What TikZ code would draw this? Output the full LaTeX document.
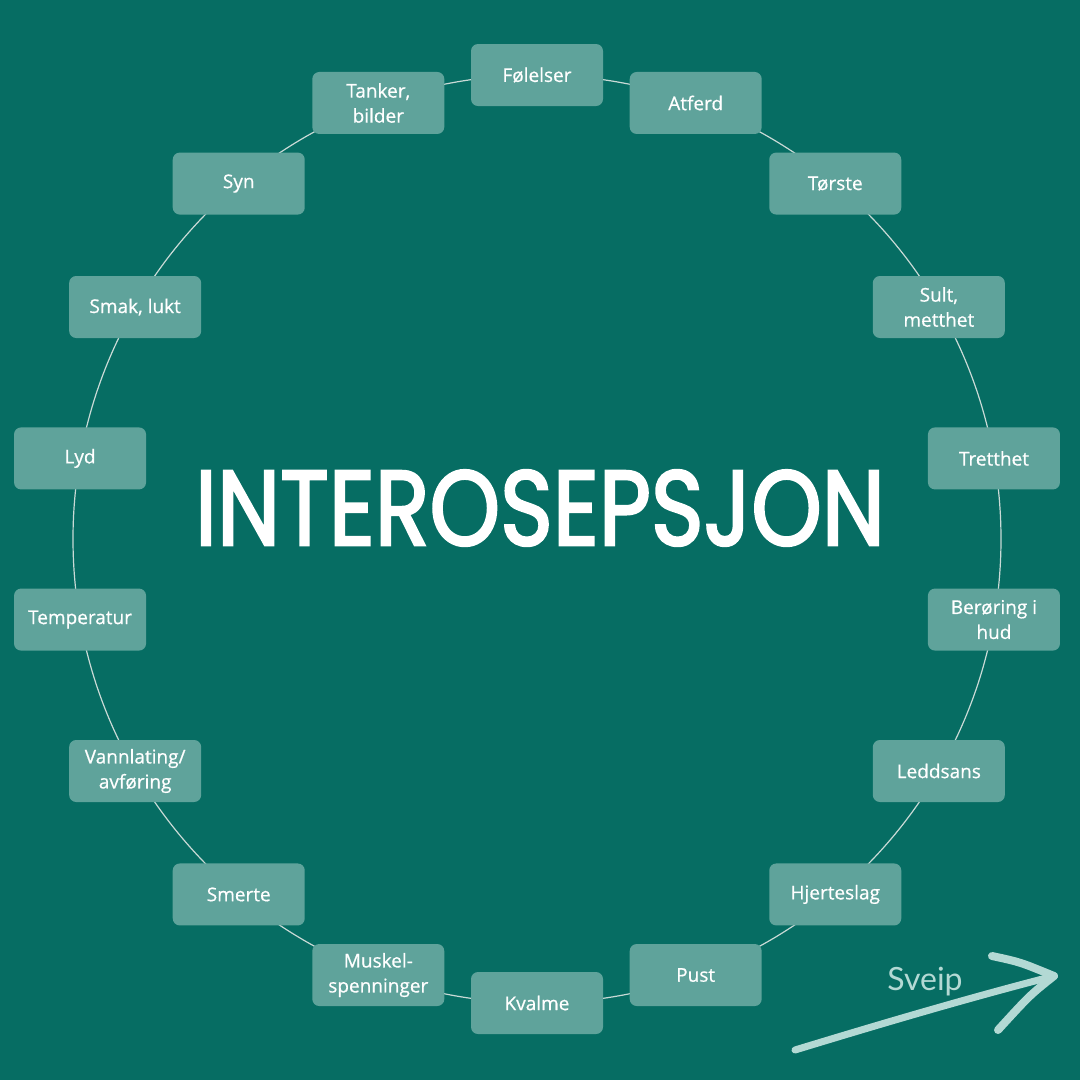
\documentclass[tikz,border=0pt]{standalone}
\usepackage{fontspec}
\setmainfont{Open Sans}
\newfontfamily\boxfont{Open Sans}[FakeBold=0.6]
\newfontfamily\titlefont{Poppins}[FakeBold=2.5]
\newfontfamily\sveipfont{Lato}
\definecolor{bgc}{HTML}{066D63}
\definecolor{boxc}{HTML}{5FA39B}
\definecolor{ringc}{HTML}{C9DAD6}
\definecolor{arrc}{HTML}{B3D9D4}
\begin{document}
\begin{tikzpicture}[x=1pt,y=-1pt,
  itembox/.style={draw=none, fill=boxc, rounded corners=7pt, minimum width=132pt, minimum height=62pt,
    text=white, align=center, inner sep=2pt, font=\boxfont\fontsize{19}{25}\selectfont}]
\fill[bgc] (0,0) rectangle (1080,1080);
\useasboundingbox (0,0) rectangle (1080,1080);
\coordinate (c) at (537,539);
\draw[ringc, line width=1.2pt] (c) circle[radius=464];
\foreach \ang/\nm/\txt in {90/n1/Følelser, 70/n2/Atferd, 50/n3/Tørste, 30/n4/{Sult,\\metthet},
  10/n5/Tretthet, -10/n6/{Berøring i\\hud}, -30/n7/Leddsans, -50/n8/Hjerteslag, -70/n9/Pust,
  -90/n10/Kvalme, -110/n11/{Muskel-\\spenninger}, -130/n12/Smerte, -150/n13/{Vannlating/\\avføring},
  -170/n14/Temperatur, 170/n15/Lyd, 150/n16/{Smak, lukt}, 130/n17/Syn, 110/n18/{Tanker,\\bilder}}
  \node[itembox] (\nm) at ([shift={(537,539)}]-\ang:464) {\txt};
\node[text=white, inner sep=0pt] (title) at (540,508)
  {\resizebox{690pt}{75pt}{\titlefont INTEROSEPSJON}};
\node[text=arrc, font=\sveipfont\fontsize{32}{36}\selectfont, inner sep=0pt, anchor=base] (sveip) at (925,990) {Sveip};
\coordinate (a0) at (795,1050);
\coordinate (a1) at (1054,976);
\coordinate (a2) at (992,956);
\coordinate (a3) at (998,1030);
\draw[arrc, line width=7pt, line cap=round] (a0) .. controls (900,1018) and (980,995) .. (a1);
\draw[arrc, line width=8pt, line cap=round, line join=round] (a2) .. controls (1020,962) .. (a1) .. controls (1030,995) .. (a3);
\end{tikzpicture}
\end{document}
